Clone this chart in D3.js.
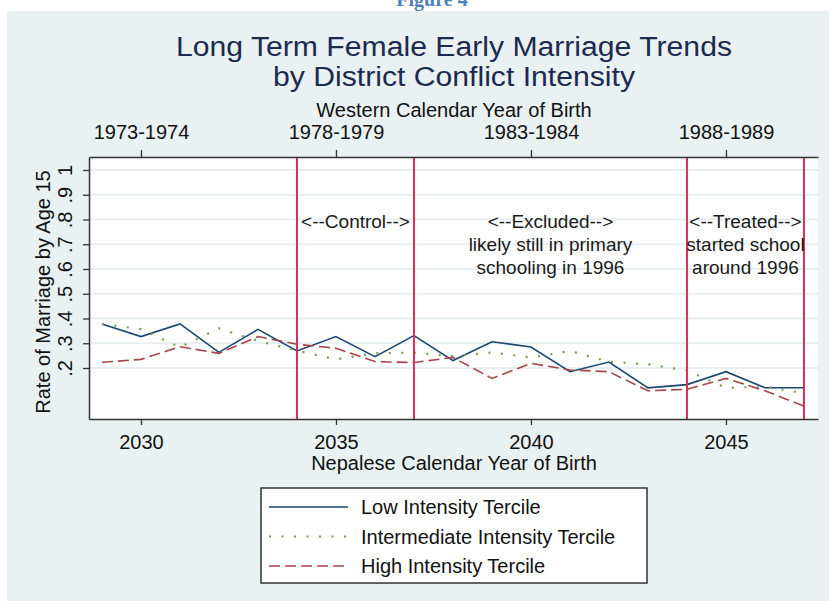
<!DOCTYPE html>
<html>
<head>
<meta charset="utf-8">
<script src="https://cdn.jsdelivr.net/npm/d3@7"></script>
<style>
  body { margin: 0; background: #fff; }
  svg text { font-family: "Liberation Sans", Arial, sans-serif; }
</style>
</head>
<body>
<svg id="chart" width="829" height="610"></svg>
<script>
// data
const years = [2029, 2030, 2031, 2032, 2033, 2034, 2035, 2036, 2037, 2038, 2039, 2040, 2041, 2042, 2043, 2044, 2045, 2046, 2047];
const lowIntensity = [0.378, 0.327, 0.378, 0.263, 0.356, 0.269, 0.327, 0.246, 0.331, 0.230, 0.306, 0.285, 0.185, 0.224, 0.120, 0.133, 0.185, 0.120, 0.120];
const midIntensity = [0.378, 0.357, 0.284, 0.360, 0.310, 0.270, 0.235, 0.260, 0.262, 0.248, 0.263, 0.242, 0.269, 0.225, 0.215, 0.190, 0.120, 0.125, 0.098];
const highIntensity = [0.223, 0.235, 0.286, 0.259, 0.327, 0.296, 0.280, 0.226, 0.222, 0.243, 0.158, 0.219, 0.192, 0.185, 0.108, 0.114, 0.158, 0.108, 0.046];
const seriesNames = ["Low Intensity Tercile", "Intermediate Intensity Tercile", "High Intensity Tercile"];

const bottomTicks = [2030, 2035, 2040, 2045];
const topTickLabels = ["1973-1974", "1978-1979", "1983-1984", "1988-1989"];
const yTicks = [0.2, 0.3, 0.4, 0.5, 0.6, 0.7, 0.8, 0.9, 1];
const yTickLabels = [".2", ".3", ".4", ".5", ".6", ".7", ".8", ".9", "1"];

const periodLines = [2034, 2037, 2044, 2047];
const noteYears = [2035.5, 2040.5, 2045.5];
const noteLines = [
  ["<--Control-->"],
  ["<--Excluded-->", "likely still in primary", "schooling in 1996"],
  ["<--Treated-->", "started school", "around 1996"],
];
const noteLevel = 0.785;

// layout
const plot = { left: 89, right: 818, top: 157, bottom: 419 };
const colors = { low: "#1a476f", mid: "#76a04c", high: "#a8434b", period: "#d5305a" };

const svg = d3.select("#chart");

// blue caption cut at the top of the page
svg.append("text")
  .attr("x", 432).attr("y", 6)
  .attr("text-anchor", "middle")
  .style("font-family", "'Liberation Serif', serif")
  .style("font-weight", "bold")
  .style("font-size", "20px")
  .style("fill", "#4f81bd")
  .text("Figure 4");

// graph region
svg.append("rect")
  .attr("x", 7).attr("y", 11)
  .attr("width", 822).attr("height", 590)
  .attr("fill", "#eaf1f3");

const x = d3.scaleLinear().domain([2028.667, 2047.36]).range([plot.left, plot.right]);
const y = d3.scaleLinear().domain([-0.006, 1.0525]).range([plot.bottom, plot.top]);

svg.append("rect")
  .attr("x", plot.left).attr("y", plot.top)
  .attr("width", plot.right - plot.left).attr("height", plot.bottom - plot.top)
  .attr("fill", "#fff");

// grid
svg.append("g")
  .selectAll("line")
  .data(yTicks)
  .join("line")
  .attr("x1", plot.left).attr("x2", plot.right)
  .attr("y1", d => y(d)).attr("y2", d => y(d))
  .attr("stroke", "#e6eef1")
  .attr("stroke-width", 2);

// series
const series = [
  { values: lowIntensity, color: colors.low, dash: null, width: 1.6 },
  { values: midIntensity, color: colors.mid, dash: "2 10.5", width: 2.2 },
  { values: highIntensity, color: colors.high, dash: "11 5", width: 1.6 },
];
const line = d3.line().x(d => x(d[0])).y(d => y(d[1]));

series.forEach(s => {
  svg.append("path")
    .datum(years.map((yr, i) => [yr, s.values[i]]))
    .attr("d", line)
    .attr("fill", "none")
    .attr("stroke", s.color)
    .attr("stroke-width", s.width)
    .attr("stroke-dasharray", s.dash);
});

// period markers
svg.append("g")
  .selectAll("line")
  .data(periodLines)
  .join("line")
  .attr("x1", d => x(d)).attr("x2", d => x(d))
  .attr("y1", plot.top).attr("y2", plot.bottom)
  .attr("stroke", colors.period)
  .attr("stroke-width", 2);

// notes
noteYears.forEach((yr, i) => {
  svg.append("text")
    .attr("x", x(yr))
    .attr("y", y(noteLevel))
    .attr("text-anchor", "middle")
    .attr("dominant-baseline", "middle")
    .style("font-size", "19px")
    .style("fill", "#1a1a1a")
    .selectAll("tspan")
    .data(noteLines[i])
    .join("tspan")
    .attr("x", x(yr))
    .attr("dy", (d, j) => j === 0 ? 0 : 23)
    .text(d => d);
});

// axes
const axisStyle = g => {
  g.select(".domain").attr("stroke", "#333").attr("stroke-width", 1.5);
  g.selectAll(".tick line").attr("stroke", "#333").attr("stroke-width", 1.3);
  g.selectAll(".tick text").style("font-size", "20px").style("fill", "#111");
};

svg.append("g")
  .attr("transform", `translate(0,${plot.bottom})`)
  .call(d3.axisBottom(x).tickValues(bottomTicks).tickFormat(d3.format("d")).tickSize(6).tickSizeOuter(0).tickPadding(10))
  .call(axisStyle);

svg.append("g")
  .attr("transform", `translate(0,${plot.top})`)
  .call(d3.axisTop(x).tickValues(bottomTicks).tickFormat((d, i) => topTickLabels[i]).tickSize(7).tickSizeOuter(0).tickPadding(11))
  .call(axisStyle);

const yAxis = svg.append("g")
  .attr("transform", `translate(${plot.left},0)`)
  .call(d3.axisLeft(y).tickValues(yTicks).tickFormat((d, i) => yTickLabels[i]).tickSize(6).tickSizeOuter(0))
  .call(axisStyle);

yAxis.selectAll(".tick text")
  .attr("x", 0).attr("dy", null)
  .attr("text-anchor", "middle")
  .attr("transform", "translate(-17,0) rotate(-90)");

// titles
svg.append("text")
  .attr("x", 454).attr("y", 56)
  .attr("text-anchor", "middle")
  .attr("textLength", 556)
  .attr("lengthAdjust", "spacingAndGlyphs")
  .style("font-size", "27px")
  .style("fill", "#1c2a50")
  .text("Long Term Female Early Marriage Trends");

svg.append("text")
  .attr("x", 454).attr("y", 86)
  .attr("text-anchor", "middle")
  .attr("textLength", 362)
  .attr("lengthAdjust", "spacingAndGlyphs")
  .style("font-size", "27px")
  .style("fill", "#1c2a50")
  .text("by District Conflict Intensity");

svg.append("text")
  .attr("x", 454).attr("y", 117)
  .attr("text-anchor", "middle")
  .style("font-size", "20px")
  .style("fill", "#111")
  .text("Western Calendar Year of Birth");

svg.append("text")
  .attr("x", 454).attr("y", 470)
  .attr("text-anchor", "middle")
  .style("font-size", "20px")
  .style("fill", "#111")
  .text("Nepalese Calendar Year of Birth");

svg.append("text")
  .attr("transform", `translate(50,${(plot.top + plot.bottom) / 2 + 4}) rotate(-90)`)
  .attr("text-anchor", "middle")
  .style("font-size", "20px")
  .style("fill", "#111")
  .text("Rate of Marriage by Age 15");

// legend
const legend = svg.append("g").attr("transform", "translate(261,488)");
legend.append("rect")
  .attr("width", 386).attr("height", 95)
  .attr("fill", "#fff")
  .attr("stroke", "#333")
  .attr("stroke-width", 1.5);

const rows = legend.selectAll("g.row")
  .data(series)
  .join("g")
  .attr("class", "row")
  .attr("transform", (d, i) => `translate(0,${19 + i * 29.5})`);

rows.append("line")
  .attr("x1", 8).attr("x2", 87)
  .attr("stroke", d => d.color)
  .attr("stroke-width", d => d.width)
  .attr("stroke-dasharray", d => d.dash);

rows.append("text")
  .attr("x", 100)
  .attr("dy", "0.35em")
  .style("font-size", "20px")
  .style("fill", "#111")
  .text((d, i) => seriesNames[i]);
</script>
</body>
</html>
